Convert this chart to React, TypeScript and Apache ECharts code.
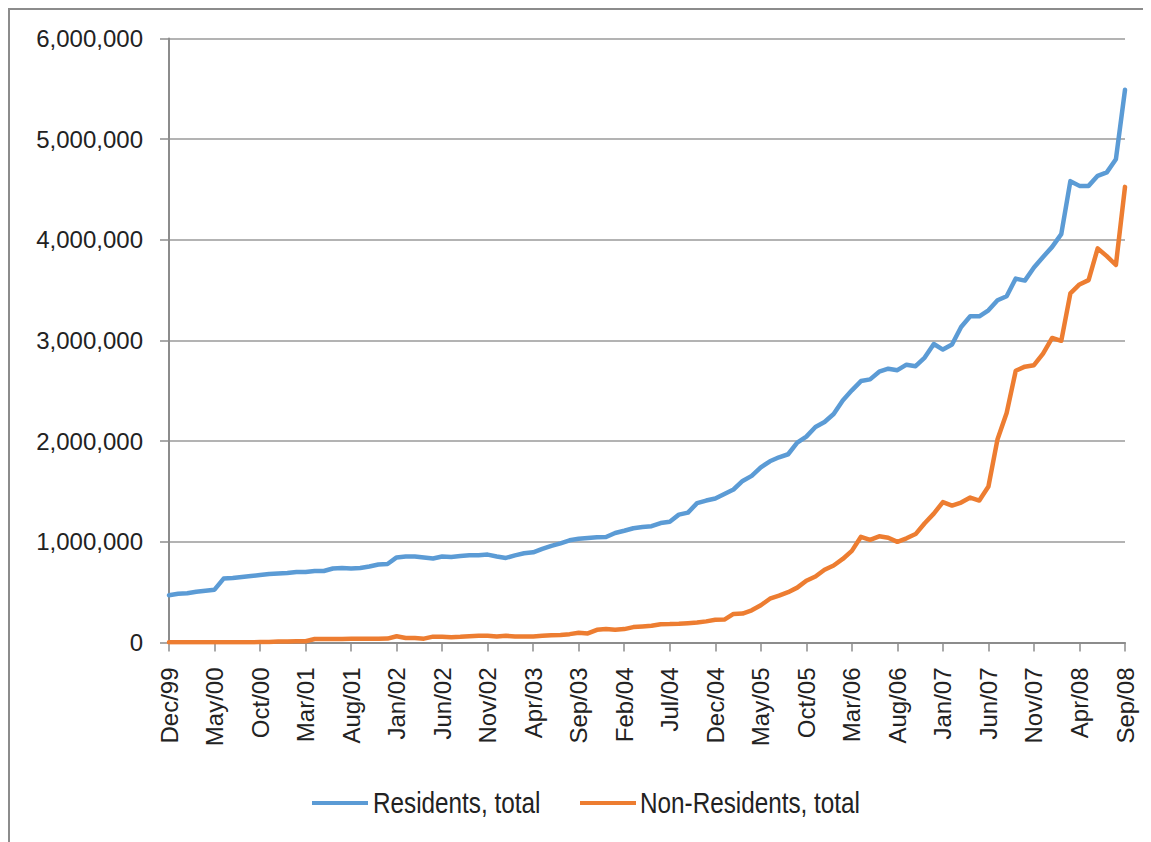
import React, { useEffect, useRef } from "react";
import * as echarts from "echarts";

const MONTH_NAMES = ["Jan", "Feb", "Mar", "Apr", "May", "Jun", "Jul", "Aug", "Sep", "Oct", "Nov", "Dec"];
const START_MONTH = 11; // Dec
const START_YEAR = 1999;
const N_MONTHS = 106; // Dec/99 .. Sep/08

const categories: string[] = [];
for (let i = 0; i < N_MONTHS; i++) {
  const k = START_MONTH + i;
  const y = START_YEAR + Math.floor(k / 12);
  categories.push(`${MONTH_NAMES[k % 12]}/${String(y % 100).padStart(2, "0")}`);
}

const residents: number[] = [
  470000, 485000, 490000, 505000, 515000, 525000, 635000, 640000, 650000, 660000,
  670000, 680000, 685000, 690000, 700000, 700000, 710000, 710000, 735000, 740000,
  735000, 740000, 755000, 775000, 780000, 845000, 855000, 855000, 845000, 835000,
  855000, 850000, 860000, 866000, 866000, 873000, 855000, 840000, 866000, 886000,
  896000, 930000, 960000, 985000, 1015000, 1030000, 1038000, 1045000, 1048000, 1088000,
  1110000, 1135000, 1147000, 1155000, 1187000, 1200000, 1270000, 1290000, 1385000, 1410000,
  1430000, 1475000, 1520000, 1605000, 1655000, 1740000, 1800000, 1840000, 1870000, 1985000,
  2045000, 2140000, 2190000, 2270000, 2405000, 2505000, 2597000, 2614000, 2690000, 2720000,
  2705000, 2760000, 2745000, 2830000, 2965000, 2910000, 2960000, 3135000, 3240000, 3240000,
  3300000, 3400000, 3440000, 3615000, 3595000, 3725000, 3830000, 3930000, 4057000, 4583000,
  4536000, 4536000, 4636000, 4670000, 4800000, 5490000,
];

const nonResidents: number[] = [
  2000, 2000, 2000, 2000, 2000, 2000, 3000, 3000, 3000, 3000,
  4000, 4000, 10000, 10000, 12000, 12000, 35000, 35000, 36000, 36000,
  37000, 37000, 38000, 38000, 39000, 62000, 45000, 45000, 38000, 58000,
  58000, 53000, 56000, 63000, 68000, 68000, 60000, 66000, 60000, 60000,
  60000, 66000, 73000, 75000, 83000, 96000, 90000, 126000, 133000, 127000,
  133000, 153000, 160000, 166000, 182000, 183000, 186000, 192000, 198000, 210000,
  226000, 228000, 284000, 288000, 320000, 370000, 435000, 465000, 500000, 545000,
  614000, 655000, 723000, 765000, 830000, 910000, 1050000, 1020000, 1055000, 1040000,
  1000000, 1035000, 1077000, 1185000, 1280000, 1395000, 1360000, 1390000, 1440000, 1410000,
  1550000, 2020000, 2280000, 2700000, 2740000, 2755000, 2870000, 3025000, 2997000, 3468000,
  3557000, 3600000, 3915000, 3838000, 3750000, 4526000,
];

const seriesNames = ["Residents, total", "Non-Residents, total"];
const seriesColors = ["#5B9BD5", "#ED7D31"];

export default function App() {
  const ref = useRef<HTMLDivElement>(null);

  useEffect(() => {
    if (!ref.current) return;
    const chart = echarts.init(ref.current, null, { renderer: "svg" });
    const axisGray = "#8c8c8c";
    const font = "'Liberation Sans', Arial, sans-serif";

    // Legend drawn as graphic elements (condensed text via scaleX)
    const legendItems = [
      { iconX: 302, textX: 363 },
      { iconX: 570, textX: 630 },
    ];
    const legendY = 793;
    const legendGraphics: any[] = [];
    seriesNames.forEach((name, i) => {
      legendGraphics.push({
        type: "rect",
        shape: { x: legendItems[i].iconX, y: legendY - 2, width: 56, height: 4 },
        style: { fill: seriesColors[i] },
        silent: true,
      });
      legendGraphics.push({
        type: "text",
        x: legendItems[i].textX,
        y: legendY,
        scaleX: 0.81,
        style: {
          text: name,
          fontSize: 30,
          fontFamily: font,
          fill: "#222222",
          verticalAlign: "middle",
          align: "left",
        },
        silent: true,
      });
    });

    chart.setOption({
      animation: false,
      backgroundColor: "#ffffff",
      textStyle: { fontFamily: font },
      grid: { left: 159, top: 28.5, right: 26, bottom: 199.5, containLabel: false },
      legend: { show: false, data: seriesNames },
      graphic: legendGraphics,
      xAxis: {
        type: "category",
        data: categories,
        boundaryGap: false,
        axisLine: { show: true, lineStyle: { color: axisGray, width: 2 } },
        axisTick: { show: true, interval: 4, length: 9, lineStyle: { color: axisGray, width: 1.5 } },
        axisLabel: {
          interval: 4,
          rotate: 90,
          margin: 25,
          fontSize: 24,
          color: "#222222",
          fontFamily: font,
        },
        splitLine: { show: false },
      },
      yAxis: {
        type: "value",
        min: 0,
        max: 6000000,
        interval: 1000000,
        axisLine: { show: true, lineStyle: { color: axisGray, width: 2 } },
        axisTick: { show: true, length: 9, lineStyle: { color: axisGray, width: 1.5 } },
        axisLabel: {
          margin: 26,
          fontSize: 24,
          color: "#222222",
          fontFamily: font,
          formatter: (v: number) => v.toLocaleString("en-US"),
        },
        splitLine: { show: true, lineStyle: { color: "#9a9a9a", width: 1.5 } },
      },
      series: [
        {
          name: seriesNames[0],
          type: "line",
          data: residents,
          showSymbol: false,
          symbol: "none",
          color: seriesColors[0],
          lineStyle: { width: 4.5, color: seriesColors[0], cap: "round", join: "round" },
        },
        {
          name: seriesNames[1],
          type: "line",
          data: nonResidents,
          showSymbol: false,
          symbol: "none",
          color: seriesColors[1],
          lineStyle: { width: 4.5, color: seriesColors[1], cap: "round", join: "round" },
        },
      ],
    });
    return () => chart.dispose();
  }, []);

  return (
    <div
      style={{
        width: 1143,
        height: 834,
        borderLeft: "2px solid #8c8c8c",
        borderTop: "2px solid #8c8c8c",
        boxSizing: "border-box",
        background: "#fff",
      }}
    >
      <div ref={ref} style={{ width: 1141, height: 832 }} />
    </div>
  );
}
